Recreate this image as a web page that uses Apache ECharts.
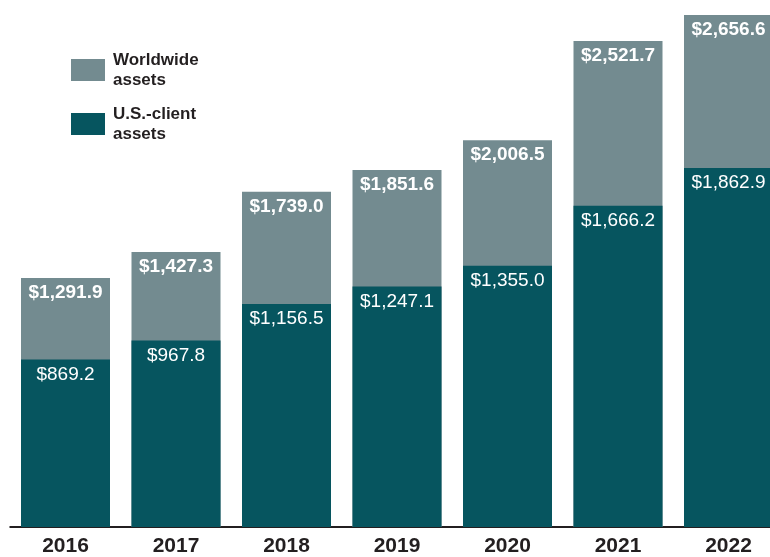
<!DOCTYPE html>
<html>
<head>
<meta charset="utf-8">
<style>
  html, body { margin: 0; padding: 0; background: #ffffff; }
  #frame { position: relative; width: 770px; height: 557px; overflow: hidden; }
  #chart { position: absolute; left: 0; top: 0; width: 784px; height: 557px; }
</style>
<script src="https://cdn.jsdelivr.net/npm/echarts@6/dist/echarts.min.js"></script>
</head>
<body>
<div id="frame"><div id="chart"></div></div>
<script>
// Assets under management, $ billions
const years = ['2016', '2017', '2018', '2019', '2020', '2021', '2022'];
const worldwideAssets = [1291.9, 1427.3, 1739.0, 1851.6, 2006.5, 2521.7, 2656.6];
const usClientAssets = [869.2, 967.8, 1156.5, 1247.1, 1355.0, 1666.2, 1862.9];

const worldwideName = 'Worldwide\nassets';
const usName = 'U.S.-client\nassets';

const worldwideColor = '#738b90';
const usColor = '#06555f';
const inkColor = '#231f20';
const sans = '"Liberation Sans", "Roboto", sans-serif';

function money(v) {
  return '$' + v.toLocaleString('en-US', { minimumFractionDigits: 1, maximumFractionDigits: 1 });
}

// Two-line legend text, top-aligned with its swatch
const legendText = {
  color: inkColor,
  fontFamily: sans,
  fontWeight: 'bold',
  fontSize: 17,
  lineHeight: 20,
  padding: [20, 0, 0, 3]
};

function legendBox(name, top) {
  return {
    data: [name], left: 71, top: top, orient: 'vertical', padding: 0,
    itemWidth: 34, itemHeight: 22, icon: 'rect', selectedMode: false,
    textStyle: legendText
  };
}

const chart = echarts.init(document.getElementById('chart'), null, { renderer: 'canvas' });
chart.setOption({
  animation: false,
  backgroundColor: '#ffffff',
  grid: { left: 10.25, right: 0.25, top: 0, bottom: 26, containLabel: false },
  legend: [legendBox(worldwideName, 40), legendBox(usName, 94)],
  xAxis: {
    type: 'category',
    data: years,
    axisLine: { show: true, lineStyle: { color: inkColor, width: 2 } },
    axisTick: { show: false },
    axisLabel: {
      margin: 9,
      color: inkColor,
      fontFamily: sans,
      fontWeight: 'bold',
      fontSize: 21
    }
  },
  yAxis: {
    type: 'value', min: 0, max: 2734,
    show: false,
    splitLine: { show: false }
  },
  series: [
    {
      name: worldwideName,
      type: 'bar',
      data: worldwideAssets,
      barWidth: 89,
      barGap: '-100%',
      itemStyle: { color: worldwideColor },
      label: {
        show: true,
        position: 'insideTop',
        distance: 5,
        color: '#ffffff',
        fontFamily: sans,
        fontWeight: 'bold',
        fontSize: 19,
        lineHeight: 20,
        formatter: p => money(p.value)
      }
    },
    {
      name: usName,
      type: 'bar',
      data: usClientAssets,
      barWidth: 89,
      barGap: '-100%',
      itemStyle: { color: usColor },
      label: {
        show: true,
        position: 'insideTop',
        distance: 5,
        color: '#ffffff',
        fontFamily: sans,
        fontSize: 19,
        lineHeight: 20,
        formatter: p => money(p.value)
      }
    }
  ]
});
</script>
</body>
</html>
